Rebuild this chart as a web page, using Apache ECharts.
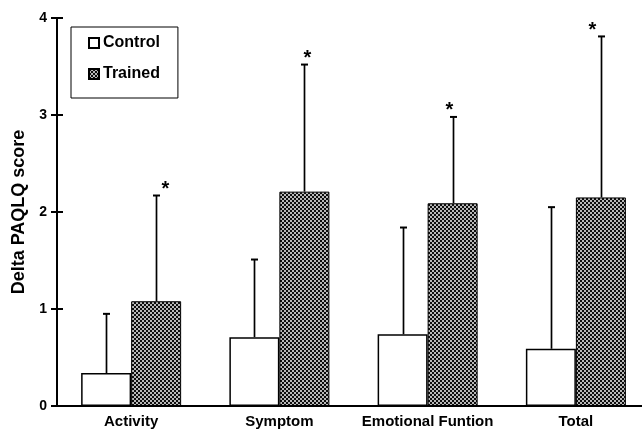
<!DOCTYPE html>
<html>
<head>
<meta charset="utf-8">
<script src="https://cdn.jsdelivr.net/npm/echarts@6/dist/echarts.min.js"></script>
<style>
html,body{margin:0;padding:0;background:#fff;overflow:hidden;width:642px;height:430px;}
#chart{width:650px;height:430px;}
</style>
</head>
<body>
<div id="chart"></div>
<script>
// ---- data ----
const categories = ['Activity', 'Symptom', 'Emotional Funtion', 'Total'];
const controlMean = [0.34, 0.71, 0.74, 0.59];
const controlSD   = [0.61, 0.80, 1.10, 1.46];
const trainedMean = [1.08, 2.21, 2.09, 2.15];
const trainedSD   = [1.09, 1.31, 0.89, 1.66];
const significant = [true, true, true, true];
const yTicks = [0, 1, 2, 3, 4];
const seriesNames = ['Control', 'Trained'];
const yTitle = 'Delta PAQLQ score';

// ---- style ----
const FONT = "'Liberation Sans', Arial, Helvetica, sans-serif";
const BAR_W = 50;
const starNudge = [9, 3, -4, -9];

function makePattern() {
  const c = document.createElement('canvas');
  c.width = 4; c.height = 4;
  const g = c.getContext('2d');
  g.fillStyle = '#b8b8b8';
  g.fillRect(0, 0, 4, 4);
  g.fillStyle = '#0d0d0d';
  g.fillRect(0, 0, 2, 2);
  g.fillRect(2, 2, 2, 2);
  return c;
}
const pattern = { image: makePattern(), repeat: 'repeat' };

function errData(mean, sd) {
  return mean.map((m, i) => [i, m, sd[i], significant[i] ? 1 : 0]);
}

function errRender(offset, withStar) {
  return function (params, api) {
    const i = api.value(0);
    const m = api.value(1);
    const s = api.value(2);
    const x = Math.round(api.coord([i, 0])[0] + offset) + 0.5;
    const yb = api.coord([i, m])[1];
    const yt = api.coord([i, m + s])[1];
    const children = [
      { type: 'line', shape: { x1: x, y1: yb, x2: x, y2: yt },
        style: { stroke: '#000', lineWidth: 1.7 } },
      { type: 'line', shape: { x1: x - 3.5, y1: yt, x2: x + 3.5, y2: yt },
        style: { stroke: '#000', lineWidth: 2 } }
    ];
    if (withStar && api.value(3)) {
      children.push({
        type: 'text', x: x + starNudge[i], y: yt + 4,
        style: { text: '*', font: 'bold 20px ' + FONT, fill: '#000',
                 textAlign: 'center', textVerticalAlign: 'bottom' }
      });
    }
    return { type: 'group', children: children };
  };
}

const chart = echarts.init(document.getElementById('chart'), null, { renderer: 'canvas', width: 650, height: 430 });
chart.setOption({
  animation: false,
  backgroundColor: '#fff',
  grid: { left: 57, right: 0, top: 18, bottom: 24, containLabel: false },
  legend: {
    data: seriesNames,
    orient: 'vertical',
    left: 71, top: 27,
    padding: [8, 18, 16, 17],
    itemWidth: 10, itemHeight: 10,
    itemGap: 15,
    icon: 'rect',
    borderColor: '#000', borderWidth: 1,
    textStyle: { fontFamily: FONT, fontWeight: 'bold', fontSize: 16, color: '#000', padding: [0, 0, 0, -1] }
  },
  xAxis: {
    type: 'category',
    data: categories,
    axisLine: { lineStyle: { color: '#000', width: 2 } },
    axisTick: { show: false },
    axisLabel: { fontFamily: FONT, fontWeight: 'bold', fontSize: 15, color: '#000', margin: 8, interval: 0 },
    splitLine: { show: false }
  },
  yAxis: [
    {
      type: 'value', min: yTicks[0], max: yTicks[yTicks.length - 1], interval: 1,
      position: 'left',
      name: yTitle, nameLocation: 'middle', nameGap: 27,
      nameTextStyle: { fontFamily: FONT, fontWeight: 'bold', fontSize: 18, color: '#000' },
      axisLine: { show: true, lineStyle: { color: '#000', width: 2 } },
      axisTick: { show: true, length: 6, lineStyle: { color: '#000', width: 2 } },
      axisLabel: { fontFamily: FONT, fontWeight: 'bold', fontSize: 14, color: '#000', margin: 10 },
      splitLine: { show: false }
    },
    {
      type: 'value', min: yTicks[0], max: yTicks[yTicks.length - 1], interval: 1,
      position: 'left', offset: 0,
      axisLine: { show: false },
      axisTick: { show: true, inside: true, length: 6, lineStyle: { color: '#000', width: 2 } },
      axisLabel: { show: false },
      splitLine: { show: false }
    }
  ],
  series: [
    {
      name: seriesNames[0], type: 'bar', data: controlMean,
      barWidth: BAR_W, barGap: '0%',
      itemStyle: { color: '#fff', borderColor: '#000', borderWidth: 1.5 }
    },
    {
      name: seriesNames[1], type: 'bar', data: trainedMean,
      barWidth: BAR_W, barGap: '0%',
      itemStyle: { color: pattern, borderColor: '#000', borderWidth: 1 }
    },
    {
      type: 'custom', data: errData(controlMean, controlSD),
      encode: { x: 0, y: 1 }, z: 5, silent: true,
      renderItem: errRender(-BAR_W / 2, false)
    },
    {
      type: 'custom', data: errData(trainedMean, trainedSD),
      encode: { x: 0, y: 1 }, z: 5, silent: true,
      renderItem: errRender(BAR_W / 2, true)
    }
  ]
});
</script>
</body>
</html>
